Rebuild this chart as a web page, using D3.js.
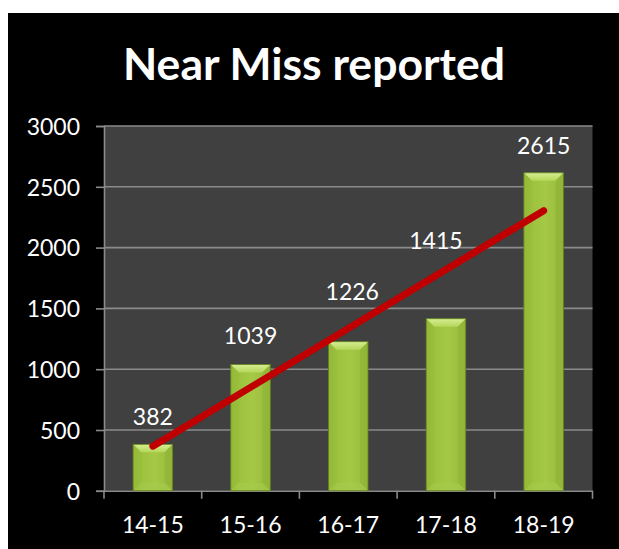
<!DOCTYPE html>
<html>
<head>
<meta charset="utf-8">
<script src="https://cdn.jsdelivr.net/npm/d3@7"></script>
<style>
  html, body { margin: 0; padding: 0; background: #ffffff; }
  svg { display: block; }
</style>
</head>
<body>
<svg id="chart" width="619" height="549"></svg>
<script>
// ---- data ----
const categories = ["14-15", "15-16", "16-17", "17-18", "18-19"];
const values = [382, 1039, 1226, 1415, 2615];
const yTicks = [0, 500, 1000, 1500, 2000, 2500, 3000];
const title = "Near Miss reported";

// ---- layout ----
const W = 619, H = 549;
const plot = { left: 104, right: 592.5, top: 126, bottom: 490.8 };
const svg = d3.select("#chart");
const FONT = "Lato, 'Open Sans', 'DejaVu Sans', sans-serif";

// background
svg.append("rect").attr("x", 0).attr("y", 0).attr("width", W).attr("height", H).attr("fill", "#ffffff");
svg.append("rect").attr("x", 8).attr("y", 13).attr("width", W - 8).attr("height", H - 13).attr("fill", "#000000");

const x = d3.scaleBand().domain(categories).range([plot.left, plot.right]).paddingInner(0).paddingOuter(0);
const y = d3.scaleLinear().domain([0, 3000]).range([plot.bottom, plot.top]);

// plot area
svg.append("rect")
  .attr("x", plot.left).attr("y", plot.top)
  .attr("width", plot.right - plot.left).attr("height", plot.bottom - plot.top)
  .attr("fill", "#404040");

// gridlines
svg.append("g").selectAll("line").data(yTicks.filter(d => d > 0)).join("line")
  .attr("x1", plot.left).attr("x2", plot.right)
  .attr("y1", d => y(d)).attr("y2", d => y(d))
  .attr("stroke", "#8a8a8a").attr("stroke-width", 1.6);

// y axis
const yAxis = d3.axisLeft(y).tickValues(yTicks).tickSize(8).tickPadding(16).tickFormat(d3.format("d"));
const gy = svg.append("g").attr("transform", `translate(${plot.left},0)`).call(yAxis);
gy.select(".domain").attr("stroke", "#8a8a8a").attr("stroke-width", 1.6);
gy.selectAll(".tick line").attr("stroke", "#8a8a8a").attr("stroke-width", 1.6);
gy.selectAll(".tick text").attr("fill", "#ffffff").attr("font-family", FONT).attr("font-size", 23)
  .attr("dy", "0.36em");

// x axis
const xAxis = d3.axisBottom(x).tickSize(0).tickPadding(26);
const gx = svg.append("g").attr("transform", `translate(0,${plot.bottom})`).call(xAxis);
gx.select(".domain").attr("stroke", "#8a8a8a").attr("stroke-width", 1.6);
gx.selectAll(".tick text").attr("fill", "#ffffff").attr("font-family", FONT).attr("font-size", 23);
// category boundary ticks
const bounds = categories.map(c => x(c)).concat([x(categories[categories.length - 1]) + x.bandwidth()]);
gx.append("g").selectAll("line").data(bounds).join("line")
  .attr("x1", d => d).attr("x2", d => d).attr("y1", 0).attr("y2", 8)
  .attr("stroke", "#8a8a8a").attr("stroke-width", 1.6);

// gradients
const defs = svg.append("defs");
const body = defs.append("linearGradient").attr("id", "barBody").attr("x1", "0").attr("x2", "1").attr("y1", "0").attr("y2", "0");
body.append("stop").attr("offset", "0").attr("stop-color", "#8fb434");
body.append("stop").attr("offset", "0.25").attr("stop-color", "#9ec33f");
body.append("stop").attr("offset", "0.55").attr("stop-color", "#a5c946");
body.append("stop").attr("offset", "1").attr("stop-color", "#96ba3a");
const topG = defs.append("linearGradient").attr("id", "barTop").attr("x1", "0").attr("x2", "0").attr("y1", "0").attr("y2", "1");
topG.append("stop").attr("offset", "0").attr("stop-color", "#d6ee92");
topG.append("stop").attr("offset", "1").attr("stop-color", "#b4d65a");

// bars
const barW = x.bandwidth() * 0.405;
const bev = 8;
const bars = svg.append("g").selectAll("g").data(values).join("g");
bars.each(function(v, i) {
  const g = d3.select(this);
  const cx = x(categories[i]) + x.bandwidth() / 2;
  const x0 = cx - barW / 2, x1 = cx + barW / 2;
  const yt = y(v), yb = y(0);
  g.append("rect").attr("x", x0).attr("y", yt).attr("width", barW).attr("height", yb - yt)
    .attr("fill", "url(#barBody)");
  // top bevel
  g.append("path").attr("d", `M${x0},${yt}L${x1},${yt}L${x1 - bev},${yt + bev}L${x0 + bev},${yt + bev}Z`)
    .attr("fill", "url(#barTop)");
  // left bevel
  g.append("path").attr("d", `M${x0},${yt}L${x0 + bev},${yt + bev}L${x0 + bev},${yb - bev}L${x0},${yb}Z`)
    .attr("fill", "#98bd3c").attr("opacity", 0.5);
  // right bevel
  g.append("path").attr("d", `M${x1},${yt}L${x1 - bev},${yt + bev}L${x1 - bev},${yb - bev}L${x1},${yb}Z`)
    .attr("fill", "#8cb032").attr("opacity", 0.5);
  // bottom bevel
  g.append("path").attr("d", `M${x0},${yb}L${x0 + bev},${yb - bev}L${x1 - bev},${yb - bev}L${x1},${yb}Z`)
    .attr("fill", "#a6ca4c").attr("opacity", 0.6);
  g.append("rect").attr("x", x0).attr("y", yt).attr("width", barW).attr("height", yb - yt)
    .attr("fill", "none").attr("stroke", "#5f7d1c").attr("stroke-width", 0.8);
});

// linear trendline (least squares from the values)
const n = values.length;
const xs = d3.range(n);
const mx = d3.mean(xs), my = d3.mean(values);
const slope = d3.sum(xs, (xi, k) => (xi - mx) * (values[k] - my)) / d3.sum(xs, xi => (xi - mx) ** 2);
const icpt = my - slope * mx;
const cxOf = i => x(categories[i]) + x.bandwidth() / 2;
svg.append("line")
  .attr("x1", cxOf(0)).attr("y1", y(icpt))
  .attr("x2", cxOf(n - 1)).attr("y2", y(icpt + slope * (n - 1)))
  .attr("stroke", "#c00000").attr("stroke-width", 7).attr("stroke-linecap", "round");

// data labels (manually placed like the original)
const labelOffset = [19, 20, 42, 70, 19];
const labelShift = [0, 0, 4, -10, 0];
svg.append("g").selectAll("text").data(values).join("text")
  .attr("x", (v, i) => cxOf(i) + labelShift[i])
  .attr("y", (v, i) => y(v) - labelOffset[i])
  .attr("text-anchor", "middle")
  .attr("fill", "#ffffff").attr("font-family", FONT).attr("font-size", 23)
  .text(d => d);

// title
const t = svg.append("text")
  .attr("x", 314).attr("y", 80).attr("text-anchor", "middle")
  .attr("fill", "#ffffff").attr("font-family", FONT).attr("font-weight", "bold").attr("font-size", 40)
  .text(title);
const tw = t.node().getComputedTextLength();
if (tw > 0) t.attr("font-size", 40 * 382 / tw);
</script>
</body>
</html>
